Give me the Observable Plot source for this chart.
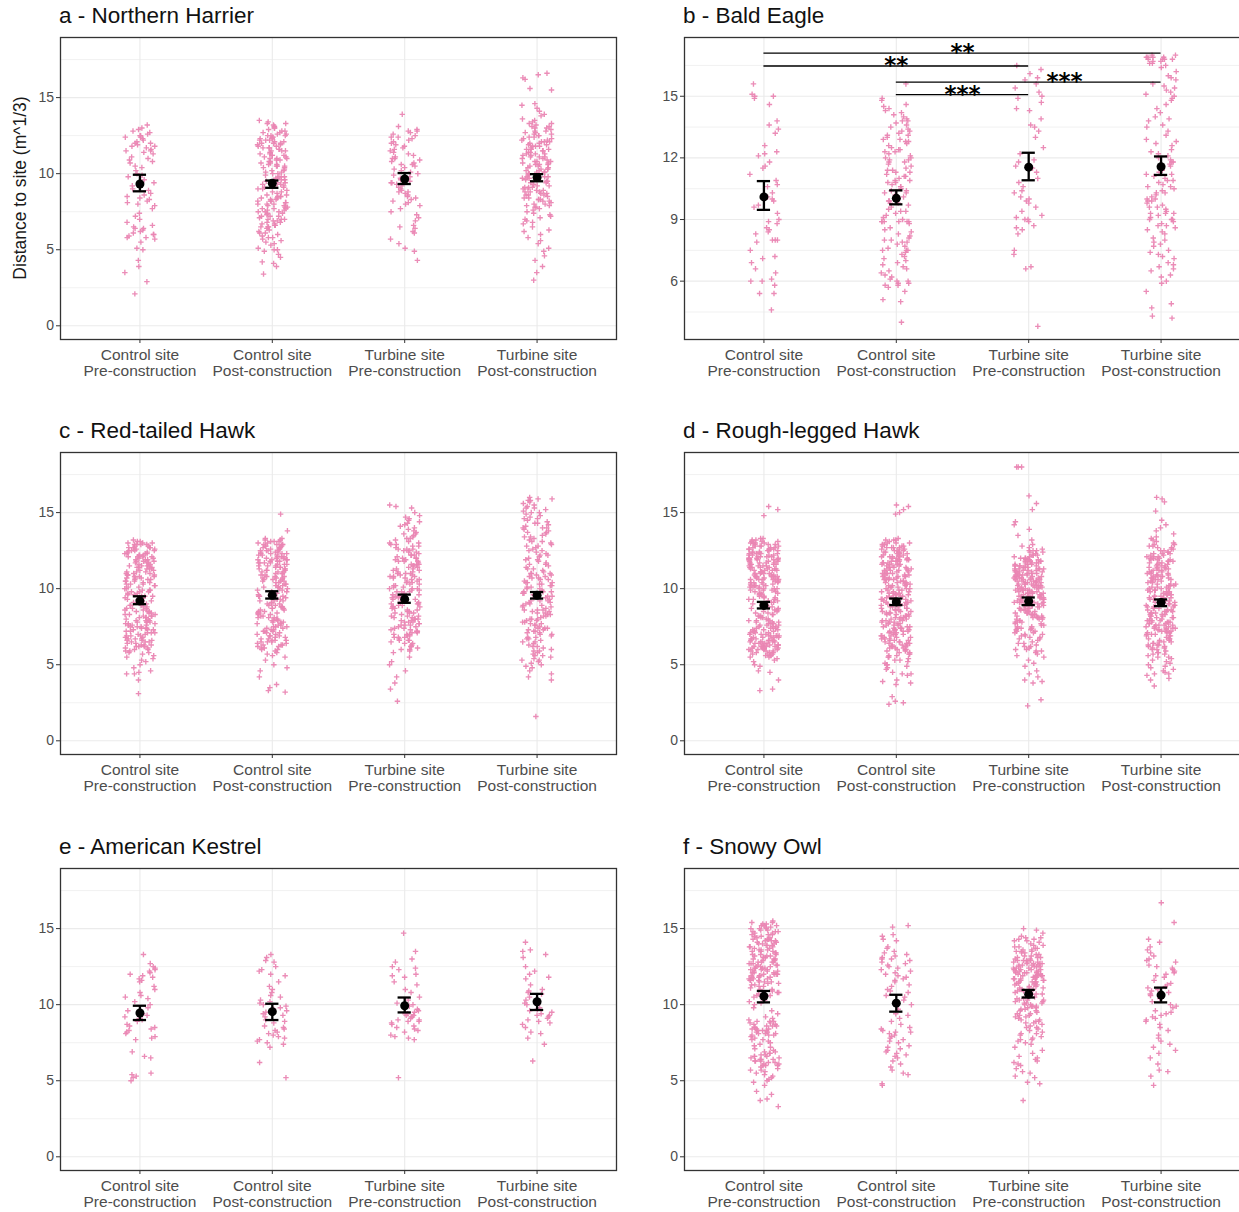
<!DOCTYPE html>
<html><head><meta charset="utf-8">
<script src="https://cdn.jsdelivr.net/npm/d3@7"></script>
<script src="https://cdn.jsdelivr.net/npm/@observablehq/plot@0.6"></script>
<style>
html,body{margin:0;padding:0;background:#fff;overflow:hidden;}
#root{position:relative;width:1239px;height:1212px;overflow:hidden;font-family:"Liberation Sans",Arial,sans-serif;background:#fff;}
.panel{position:absolute;width:620px;height:357px;}
.panel svg{max-width:none !important;}
.title{position:absolute;font-size:22.5px;color:#111;white-space:nowrap;line-height:24px;}
.ylab{position:absolute;width:300px;text-align:center;font-size:17.5px;color:#1a1a1a;transform:rotate(-90deg);white-space:nowrap;line-height:20px;}
</style></head>
<body><div id="root"></div>
<script>
// ---------- categories & labels ----------
const categories = ["Control site\nPre-construction","Control site\nPost-construction","Turbine site\nPre-construction","Turbine site\nPost-construction"];
const titles = ["a - Northern Harrier","b - Bald Eagle","c - Red-tailed Hawk","d - Rough-legged Hawk","e - American Kestrel","f - Snowy Owl"];
const yLabel = "Distance to site (m^1/3)";
const ticksMain = [0,5,10,15], ticksMainMinor = [2.5,7.5,12.5,17.5];
const ticksB = [6,9,12,15], ticksBMinor = [4.5,7.5,10.5,13.5,16.5];
const domainMain = [-0.9,18.95], domainB = [3.16,17.86];

// ---------- a - Northern Harrier ----------
const a_cpre = [13.2,13.0,12.9,12.8,12.7,12.6,12.5,12.5,12.4,12.4,12.3,12.2,12.1,12.0,12.0,11.9,11.8,11.8,11.7,11.6,11.5,11.5,11.4,11.3,11.1,11.0,10.9,10.8,10.7,10.5,10.4,10.2,10.0,9.9,9.8,9.6,9.4,9.2,9.0,8.9,8.7,8.6,8.5,8.4,8.3,8.2,8.1,8.0,7.9,7.7,7.4,7.2,7.0,6.8,6.6,6.5,6.4,6.4,6.3,6.2,6.1,6.0,6.0,5.9,5.8,5.8,5.7,5.5,5.1,5.0,4.3,3.9,3.5,2.9,2.1];
const a_cpost = [13.5,13.4,13.3,13.3,13.2,13.1,13.1,13.0,13.0,12.9,12.8,12.8,12.7,12.7,12.6,12.6,12.5,12.5,12.4,12.4,12.3,12.3,12.2,12.2,12.1,12.1,12.0,12.0,11.9,11.9,11.8,11.8,11.7,11.7,11.6,11.6,11.5,11.5,11.4,11.4,11.3,11.3,11.2,11.2,11.1,11.1,11.0,11.0,10.9,10.9,10.8,10.8,10.7,10.6,10.6,10.5,10.5,10.4,10.4,10.3,10.2,10.2,10.1,10.1,10.0,10.0,9.9,9.8,9.8,9.7,9.7,9.6,9.6,9.5,9.4,9.4,9.3,9.2,9.2,9.1,9.1,9.0,9.0,8.9,8.8,8.8,8.7,8.6,8.6,8.5,8.5,8.4,8.4,8.3,8.3,8.2,8.2,8.1,8.1,8.0,8.0,7.9,7.9,7.8,7.8,7.7,7.7,7.6,7.6,7.5,7.5,7.4,7.4,7.3,7.2,7.2,7.1,7.0,7.0,6.9,6.9,6.8,6.8,6.7,6.6,6.6,6.5,6.5,6.4,6.3,6.2,6.1,6.1,6.0,5.9,5.8,5.8,5.7,5.6,5.5,5.4,5.3,5.1,5.0,5.0,4.9,4.7,4.5,4.2,4.1,3.9,3.4,
  12.5,12.0,11.5,11.0,10.5,8.5,8.0,7.5,7.0,6.5,12.2,11.7,11.2,10.7,8.2,7.7,7.2,6.7,9.8,9.3];
const a_tpre = [13.9,13.1,12.9,12.8,12.8,12.7,12.6,12.5,12.4,12.4,12.3,12.2,12.1,12.0,11.9,11.8,11.7,11.6,11.5,11.4,11.3,11.2,11.1,11.0,11.0,10.9,10.8,10.7,10.6,10.6,10.5,10.4,10.3,10.2,10.1,10.0,9.9,9.8,9.7,9.6,9.5,9.4,9.4,9.3,9.2,9.1,9.0,8.9,8.8,8.8,8.7,8.6,8.5,8.4,8.3,8.2,8.1,8.0,7.9,7.7,7.5,7.3,7.1,6.9,6.6,6.5,6.4,6.2,6.1,5.7,5.4,5.1,4.9,4.3];
const a_tpost = [16.6,16.5,16.3,16.2,15.6,15.5,14.6,14.5,14.3,14.1,13.9,13.8,13.6,13.5,13.4,13.3,13.2,13.1,13.1,13.0,13.0,12.9,12.8,12.8,12.7,12.6,12.6,12.5,12.5,12.4,12.4,12.3,12.2,12.2,12.1,12.1,12.0,12.0,11.9,11.9,11.8,11.8,11.7,11.6,11.6,11.5,11.5,11.4,11.4,11.3,11.3,11.2,11.2,11.1,11.1,11.0,11.0,10.9,10.8,10.8,10.7,10.7,10.6,10.6,10.5,10.5,10.4,10.4,10.3,10.3,10.2,10.2,10.1,10.1,10.0,10.0,9.9,9.9,9.8,9.8,9.7,9.7,9.6,9.6,9.5,9.5,9.4,9.4,9.3,9.2,9.2,9.1,9.1,9.0,9.0,8.9,8.9,8.8,8.8,8.7,8.7,8.6,8.6,8.5,8.4,8.4,8.3,8.3,8.2,8.2,8.1,8.0,8.0,7.9,7.9,7.8,7.7,7.6,7.5,7.4,7.3,7.2,7.1,7.0,6.9,6.8,6.7,6.5,6.3,6.2,6.0,5.8,5.6,5.4,5.1,4.9,4.6,4.3,3.9,3.5,3.0,
  12.3,11.8,11.3,10.8,10.3,9.8,9.3,8.8,8.3,12.1,11.6,11.1,10.6,10.1,9.6,9.1,8.6,7.8,13.3,12.7];
const a_mean = [9.32,9.37,9.65,9.75], a_lo = [8.84,9.07,9.32,9.50], a_hi = [9.93,9.55,10.04,9.97];

// ---------- b - Bald Eagle ----------
const b_cpre = [15.6,15.1,15.0,15.0,14.9,14.6,13.8,13.6,13.4,13.2,12.6,12.3,12.2,12.1,11.8,11.6,11.5,11.2,10.9,10.7,10.6,10.3,10.1,10.0,9.9,9.7,9.6,9.3,9.0,8.9,8.8,8.6,8.5,8.4,8.3,8.0,8.0,8.0,7.9,7.5,7.2,7.1,6.9,6.6,6.4,6.1,6.0,6.0,5.8,5.4,5.4,4.6];
const b_cpost = [15.6,14.9,14.8,14.6,14.5,14.4,14.3,14.2,14.1,14.0,13.9,13.8,13.8,13.7,13.6,13.5,13.4,13.3,13.3,13.2,13.1,13.1,13.0,12.9,12.9,12.8,12.8,12.7,12.6,12.5,12.4,12.4,12.3,12.3,12.2,12.1,12.0,12.0,11.9,11.9,11.8,11.8,11.7,11.6,11.5,11.4,11.4,11.3,11.3,11.2,11.1,11.1,11.0,10.9,10.9,10.8,10.8,10.7,10.6,10.6,10.5,10.4,10.4,10.3,10.3,10.2,10.1,10.0,9.9,9.9,9.8,9.8,9.7,9.6,9.5,9.4,9.4,9.3,9.2,9.1,9.0,8.9,8.9,8.9,8.9,8.9,8.9,8.8,8.6,8.5,8.4,8.3,8.2,8.1,8.0,8.0,7.9,7.9,7.8,7.7,7.6,7.5,7.5,7.5,7.4,7.3,7.2,7.1,7.0,6.9,6.8,6.7,6.6,6.5,6.4,6.3,6.2,6.1,6.0,6.0,5.9,5.9,5.8,5.8,5.7,5.5,5.1,5.0,4.0];
const b_tpre = [16.5,16.3,16.1,15.9,15.8,15.6,15.4,15.2,15.0,14.9,14.7,14.4,14.3,13.9,13.6,13.5,13.3,13.0,12.5,12.2,11.9,11.8,11.6,11.5,11.3,11.0,10.8,10.6,10.4,10.3,10.1,10.0,9.9,9.8,9.6,9.4,9.2,9.1,9.0,9.0,8.9,8.7,8.6,8.5,8.3,7.5,7.3,6.7,6.6,3.8];
const b_tpost = [17.0,17.0,16.9,16.9,16.9,16.9,16.8,16.8,16.8,16.8,16.7,16.7,16.6,16.6,16.5,16.4,16.2,16.0,15.9,15.8,15.6,15.5,15.4,15.3,15.2,15.1,15.0,14.9,14.8,14.6,14.4,14.2,14.0,13.9,13.8,13.6,13.5,13.3,13.1,12.9,12.8,12.7,12.6,12.4,12.3,12.2,12.1,12.0,11.9,11.8,11.8,11.7,11.6,11.5,11.5,11.4,11.3,11.2,11.2,11.1,11.0,10.9,10.9,10.8,10.7,10.6,10.6,10.5,10.4,10.3,10.3,10.2,10.1,10.0,10.0,9.9,9.9,9.8,9.7,9.6,9.6,9.5,9.4,9.3,9.3,9.3,9.2,9.1,9.0,9.0,9.0,8.9,8.8,8.7,8.7,8.6,8.5,8.4,8.3,8.1,8.0,7.9,7.8,7.7,7.5,7.4,7.3,7.2,7.1,6.9,6.8,6.7,6.6,6.5,6.3,6.2,6.0,5.9,5.5,4.9,4.7,4.3,4.2];
const b_mean = [10.10,10.03,11.55,11.57], b_lo = [9.47,9.74,10.91,11.17], b_hi = [10.87,10.42,12.25,12.07];
// significance brackets (group index from, to, y position, label, label x)
const sigFrom = [1,1,2,2], sigTo = [4,3,4,3], sigY = [17.10,16.47,15.69,15.08], sigLabel = ["**","**","***","***"], sigLabelX = [2.5,2.0,3.27,2.5];

// ---------- c - Red-tailed Hawk ----------
const c_cpre = [13.2,13.1,13.1,13.0,13.0,12.9,12.9,12.9,12.8,12.8,12.7,12.7,12.7,12.6,12.6,12.5,12.5,12.5,12.4,12.4,12.3,12.3,12.3,12.2,12.2,12.1,12.1,12.1,12.0,12.0,11.9,11.9,11.8,11.8,11.8,11.7,11.7,11.6,11.6,11.5,11.5,11.5,11.4,11.4,11.3,11.3,11.2,11.2,11.1,11.1,11.0,11.0,10.9,10.9,10.8,10.8,10.8,10.7,10.7,10.6,10.6,10.5,10.5,10.4,10.4,10.3,10.3,10.2,10.2,10.1,10.0,10.0,9.9,9.9,9.8,9.8,9.7,9.6,9.6,9.5,9.5,9.4,9.3,9.3,9.2,9.2,9.1,9.0,9.0,8.9,8.9,8.8,8.8,8.7,8.7,8.6,8.6,8.5,8.5,8.4,8.4,8.3,8.3,8.2,8.2,8.1,8.1,8.0,8.0,7.9,7.9,7.8,7.8,7.8,7.7,7.7,7.6,7.6,7.6,7.5,7.5,7.4,7.4,7.3,7.3,7.2,7.2,7.1,7.1,7.0,7.0,6.9,6.9,6.8,6.8,6.7,6.7,6.6,6.6,6.5,6.5,6.4,6.4,6.3,6.3,6.2,6.2,6.1,6.0,6.0,5.9,5.8,5.7,5.6,5.5,5.3,5.2,5.0,4.8,4.6,4.5,4.4,4.4,4.0,3.1,
  12.9,12.5,12.1,11.7,11.3,10.9,10.5,10.1,9.7,9.3,8.9,8.5,8.1,7.7,7.3,6.9,6.5,6.1,12.7,12.3,11.9,11.5,11.1,10.7,10.3,9.9,9.5,9.1,8.7,8.3,7.9,7.5,7.1,6.7,6.3,5.9,13.0,12.2,11.4,10.6,9.8,9.0,8.2,7.4,6.6,5.8,12.6,11.0,9.4,7.8,6.2,5.4];
const c_cpost = [14.9,13.8,13.3,13.3,13.2,13.2,13.1,13.1,13.0,13.0,12.9,12.9,12.9,12.8,12.8,12.7,12.7,12.7,12.6,12.6,12.5,12.5,12.5,12.4,12.4,12.3,12.3,12.3,12.2,12.2,12.1,12.1,12.1,12.0,12.0,11.9,11.9,11.9,11.8,11.8,11.7,11.7,11.7,11.6,11.6,11.5,11.5,11.5,11.4,11.4,11.3,11.3,11.2,11.2,11.1,11.1,11.0,11.0,10.9,10.9,10.8,10.8,10.7,10.7,10.6,10.6,10.5,10.5,10.4,10.3,10.3,10.2,10.1,10.1,10.0,10.0,9.9,9.8,9.7,9.7,9.6,9.5,9.5,9.4,9.3,9.2,9.2,9.1,9.0,9.0,8.9,8.8,8.8,8.7,8.7,8.6,8.5,8.5,8.4,8.4,8.3,8.2,8.2,8.1,8.1,8.0,7.9,7.9,7.8,7.8,7.7,7.6,7.6,7.5,7.5,7.4,7.3,7.3,7.2,7.2,7.1,7.0,7.0,6.9,6.9,6.8,6.7,6.7,6.6,6.6,6.5,6.5,6.4,6.3,6.3,6.2,6.1,6.1,6.0,5.9,5.8,5.7,5.5,5.3,5.0,4.8,4.6,4.2,3.7,3.5,3.3,3.2,
  13.1,12.8,12.5,12.2,11.9,11.6,11.3,11.0,10.7,10.4,10.1,9.8,9.5,9.2,8.9,8.6,8.3,8.0,7.7,7.4,7.1,6.8,6.5,6.2,12.9,12.6,12.3,12.0,11.7,11.4,11.1,10.8,10.5,10.2,9.9,9.6,9.3,9.0,8.7,8.4,8.1,7.8,7.5,7.2,6.9,6.6,6.3,6.0,12.4,11.8,11.2,10.6,8.8,7.9,6.4,5.6];
const c_tpre = [15.5,15.4,15.3,15.0,14.8,14.7,14.6,14.4,14.3,14.2,14.1,14.0,13.9,13.8,13.7,13.6,13.5,13.4,13.3,13.2,13.1,13.0,12.9,12.9,12.8,12.7,12.6,12.6,12.5,12.5,12.4,12.3,12.2,12.2,12.1,12.0,12.0,11.9,11.8,11.8,11.7,11.6,11.6,11.5,11.5,11.4,11.3,11.3,11.2,11.1,11.1,11.0,11.0,10.9,10.8,10.8,10.7,10.7,10.6,10.5,10.5,10.4,10.3,10.3,10.2,10.1,10.1,10.0,10.0,9.9,9.8,9.8,9.7,9.6,9.6,9.5,9.5,9.4,9.3,9.3,9.2,9.1,9.1,9.0,9.0,8.9,8.8,8.8,8.7,8.7,8.6,8.5,8.5,8.4,8.4,8.3,8.2,8.2,8.1,8.1,8.0,8.0,7.9,7.8,7.8,7.7,7.7,7.6,7.6,7.5,7.5,7.4,7.3,7.3,7.2,7.1,7.1,7.0,7.0,6.9,6.8,6.8,6.7,6.6,6.6,6.5,6.4,6.3,6.2,6.1,6.0,5.9,5.5,5.2,5.0,4.6,4.2,3.8,3.4,2.6,
  13.6,13.0,12.6,12.2,11.8,11.4,11.0,10.6,10.2,9.8,9.4,9.0,8.6,8.2,7.8,7.4,7.0,6.6,6.2,12.8,12.4,12.0,11.6,11.2,10.8,10.4,10.0,9.6,9.2,8.8,8.4,8.0,7.6,7.2,6.8,6.4,6.0,14.5,13.3,11.9,10.9,9.9,8.9,7.9,6.9,5.8];
const c_tpost = [16.0,15.9,15.9,15.8,15.8,15.7,15.6,15.5,15.4,15.3,15.2,15.1,15.0,14.9,14.8,14.7,14.6,14.5,14.4,14.3,14.2,14.1,14.0,14.0,13.9,13.8,13.7,13.6,13.5,13.4,13.3,13.2,13.1,13.0,12.9,12.8,12.7,12.6,12.5,12.4,12.3,12.2,12.1,12.0,11.9,11.8,11.7,11.6,11.5,11.4,11.3,11.2,11.1,11.0,11.0,10.9,10.8,10.8,10.7,10.6,10.6,10.5,10.4,10.4,10.3,10.2,10.2,10.1,10.0,10.0,9.9,9.8,9.8,9.7,9.6,9.6,9.5,9.4,9.4,9.3,9.2,9.2,9.1,9.0,9.0,8.9,8.8,8.8,8.7,8.6,8.6,8.5,8.4,8.4,8.3,8.2,8.2,8.1,8.0,8.0,7.9,7.8,7.8,7.7,7.6,7.6,7.5,7.4,7.4,7.3,7.2,7.2,7.1,7.0,7.0,6.9,6.8,6.7,6.6,6.5,6.4,6.3,6.2,6.1,6.0,5.9,5.8,5.7,5.6,5.5,5.4,5.3,5.2,5.1,5.0,4.9,4.8,4.6,4.4,4.2,4.0,1.6,
  15.3,14.6,14.0,13.4,12.8,12.2,11.6,11.0,10.4,9.8,9.2,8.6,8.0,7.4,6.8,6.2,5.6,15.0,14.3,13.7,13.1,12.5,11.9,11.3,10.7,10.1,9.5,8.9,8.3,7.7,7.1,6.5,5.9,5.3,10.9,10.3,9.7,9.1,8.5,7.9,7.3,6.7];
const c_mean = [9.20,9.57,9.31,9.57], c_lo = [8.98,9.35,9.07,9.35], c_hi = [9.50,9.83,9.61,9.78];

// ---------- d - Rough-legged Hawk ----------
const d_cpre = [15.4,15.2,14.8,13.3,13.3,13.2,13.2,13.1,13.1,13.0,13.0,13.0,12.9,12.9,12.8,12.8,12.8,12.7,12.7,12.6,12.6,12.6,12.5,12.5,12.4,12.4,12.4,12.3,12.3,12.2,12.2,12.2,12.1,12.1,12.0,12.0,12.0,11.9,11.9,11.9,11.8,11.8,11.7,11.7,11.7,11.6,11.6,11.5,11.5,11.5,11.4,11.4,11.3,11.3,11.3,11.2,11.2,11.1,11.1,11.1,11.0,11.0,11.0,10.9,10.9,10.8,10.8,10.8,10.7,10.7,10.6,10.6,10.6,10.5,10.5,10.4,10.4,10.4,10.3,10.3,10.2,10.2,10.2,10.1,10.1,10.0,10.0,10.0,9.9,9.9,9.8,9.7,9.7,9.6,9.5,9.5,9.4,9.3,9.3,9.2,9.1,9.1,9.0,9.0,8.9,8.8,8.8,8.7,8.6,8.6,8.5,8.4,8.4,8.3,8.2,8.2,8.1,8.0,8.0,7.9,7.9,7.8,7.8,7.7,7.7,7.6,7.6,7.5,7.5,7.4,7.4,7.3,7.3,7.2,7.2,7.1,7.1,7.0,7.0,6.9,6.9,6.9,6.8,6.8,6.8,6.7,6.7,6.7,6.6,6.6,6.6,6.5,6.5,6.5,6.4,6.4,6.4,6.3,6.3,6.3,6.2,6.2,6.2,6.1,6.1,6.1,6.0,6.0,6.0,5.9,5.9,5.8,5.8,5.7,5.7,5.6,5.6,5.5,5.5,5.4,5.3,5.2,5.0,4.9,4.6,4.5,4.0,3.4,3.3,
  12.9,12.6,12.3,12.1,11.9,11.6,11.4,11.2,11.0,10.8,10.6,10.4,10.2,10.0,12.7,12.4,12.0,11.7,11.3,10.9,10.5,10.1,9.8,9.4,9.0,8.7,8.3,7.9,7.6,7.3,7.0,6.8,6.5,6.3,6.1,5.9,6.9,6.6,6.4,6.2,6.0,7.2,7.5,7.8,8.1,8.5,8.9,9.2,9.6,9.9,10.3,10.7,11.1,11.5,11.8,12.2,12.5,12.8,13.1,6.7,6.2,5.8,5.6,7.4,7.7,8.2,8.8,9.3,9.7,10.6,11.2,11.6,12.1,12.6,13.0,5.7,6.1,6.5,6.9,7.1,10.2,10.8,11.4,11.9,12.3];
const d_cpost = [15.5,15.4,15.2,15.0,14.9,13.3,13.2,13.2,13.1,13.0,13.0,12.9,12.9,12.8,12.8,12.7,12.7,12.7,12.6,12.6,12.5,12.5,12.4,12.4,12.4,12.3,12.3,12.2,12.2,12.1,12.1,12.1,12.0,12.0,11.9,11.9,11.8,11.8,11.8,11.7,11.7,11.6,11.6,11.6,11.5,11.5,11.4,11.4,11.4,11.3,11.3,11.2,11.2,11.2,11.1,11.1,11.0,11.0,11.0,10.9,10.9,10.8,10.8,10.8,10.7,10.7,10.6,10.6,10.6,10.5,10.5,10.4,10.4,10.3,10.3,10.2,10.2,10.1,10.1,10.0,10.0,9.9,9.9,9.8,9.8,9.7,9.7,9.6,9.6,9.5,9.5,9.4,9.4,9.3,9.3,9.2,9.2,9.1,9.1,9.0,9.0,8.9,8.9,8.8,8.8,8.7,8.7,8.6,8.6,8.5,8.5,8.4,8.4,8.3,8.3,8.2,8.2,8.1,8.1,8.0,8.0,7.9,7.9,7.8,7.8,7.7,7.7,7.6,7.6,7.5,7.5,7.4,7.4,7.3,7.3,7.2,7.2,7.1,7.1,7.0,7.0,6.9,6.9,6.8,6.8,6.7,6.7,6.6,6.6,6.5,6.5,6.4,6.4,6.3,6.3,6.2,6.2,6.1,6.1,6.0,6.0,5.9,5.8,5.7,5.6,5.5,5.4,5.3,5.2,5.1,5.0,4.9,4.7,4.5,4.4,4.4,4.3,4.0,3.9,3.8,3.7,2.9,2.6,2.5,2.4,
  13.2,12.9,12.6,12.3,12.0,11.7,11.4,11.1,10.8,10.5,10.2,9.9,9.6,9.3,9.0,8.7,8.4,8.1,7.8,7.5,7.2,6.9,6.6,6.3,6.0,5.7,12.8,12.5,12.2,11.9,11.6,11.3,11.0,10.7,10.4,10.1,9.8,9.5,9.2,8.9,8.6,8.3,8.0,7.7,7.4,7.1,6.8,6.5,6.2,5.9,5.6,13.0,12.4,11.8,11.2,10.6,10.0,9.4,8.8,8.2,7.6,7.0,6.4,5.8,12.7,12.1,11.5,10.9,10.3,9.7,9.1,8.5,7.9,7.3,6.7,6.1,5.5,5.3,5.0,4.8];
const d_tpre = [18.0,18.0,18.0,16.1,15.6,15.2,14.4,14.2,13.9,13.5,13.2,12.9,12.8,12.7,12.6,12.5,12.5,12.4,12.3,12.2,12.2,12.1,12.0,12.0,11.9,11.9,11.8,11.8,11.8,11.7,11.7,11.7,11.6,11.6,11.6,11.5,11.5,11.5,11.4,11.4,11.4,11.3,11.3,11.3,11.2,11.2,11.2,11.1,11.1,11.1,11.0,11.0,11.0,10.9,10.9,10.9,10.8,10.8,10.8,10.7,10.7,10.7,10.6,10.6,10.6,10.5,10.5,10.5,10.4,10.4,10.4,10.3,10.3,10.3,10.2,10.2,10.2,10.1,10.1,10.1,10.0,10.0,10.0,9.9,9.9,9.9,9.8,9.8,9.7,9.7,9.7,9.6,9.6,9.5,9.5,9.5,9.4,9.4,9.3,9.3,9.3,9.2,9.2,9.1,9.1,9.1,9.0,9.0,8.9,8.9,8.8,8.8,8.7,8.7,8.6,8.6,8.5,8.5,8.4,8.4,8.3,8.3,8.2,8.2,8.1,8.1,8.0,8.0,7.9,7.8,7.8,7.7,7.6,7.6,7.5,7.4,7.4,7.3,7.2,7.2,7.1,7.0,7.0,6.9,6.8,6.7,6.6,6.5,6.4,6.3,6.2,6.1,6.0,5.9,5.8,5.6,5.5,5.3,5.1,4.9,4.6,4.4,4.2,4.0,3.9,3.8,2.7,2.3,
  12.4,12.1,11.9,11.7,11.5,11.3,11.1,10.9,10.7,10.5,10.3,10.1,9.9,9.7,9.5,9.3,9.1,8.9,8.7,8.5,8.3,8.1,7.9,7.7,12.2,12.0,11.8,11.6,11.4,11.2,11.0,10.8,10.6,10.4,10.2,10.0,9.8,9.6,9.4,9.2,9.0,8.8,8.6,8.4,8.2,8.0,7.8,7.5,7.3,7.1,6.9,6.7,6.4,6.2,5.9,5.7,11.9,11.5,11.1,10.7,10.3,9.9,9.5,9.1,8.7,8.3,12.5,11.3,10.5,9.7,8.9,8.1,7.4,6.8,6.0];
const d_tpost = [16.0,15.9,15.7,15.1,14.5,14.2,14.0,13.8,13.6,13.4,13.2,13.1,13.0,12.9,12.8,12.8,12.7,12.6,12.5,12.5,12.4,12.3,12.3,12.2,12.1,12.1,12.0,12.0,11.9,11.9,11.8,11.8,11.7,11.7,11.6,11.6,11.5,11.5,11.4,11.4,11.3,11.3,11.2,11.2,11.1,11.1,11.0,11.0,10.9,10.9,10.8,10.8,10.7,10.7,10.6,10.6,10.5,10.5,10.4,10.4,10.3,10.3,10.2,10.2,10.1,10.1,10.0,10.0,9.9,9.9,9.8,9.8,9.7,9.7,9.6,9.6,9.5,9.5,9.4,9.4,9.3,9.3,9.2,9.2,9.1,9.1,9.0,9.0,8.9,8.9,8.8,8.8,8.7,8.7,8.6,8.6,8.5,8.5,8.4,8.4,8.3,8.3,8.2,8.2,8.1,8.1,8.0,8.0,7.9,7.9,7.9,7.8,7.8,7.8,7.7,7.7,7.6,7.6,7.6,7.5,7.5,7.4,7.4,7.4,7.3,7.3,7.2,7.2,7.1,7.1,7.0,7.0,6.9,6.9,6.8,6.7,6.7,6.6,6.5,6.5,6.4,6.3,6.3,6.2,6.1,6.0,5.9,5.8,5.7,5.6,5.5,5.4,5.2,5.0,4.9,4.8,4.6,4.5,4.4,4.4,4.3,4.1,4.0,3.6,
  12.9,12.6,12.3,12.0,11.7,11.4,11.1,10.8,10.5,10.2,9.9,9.6,9.3,9.0,8.7,8.4,8.1,7.8,7.5,7.2,6.9,6.6,6.3,6.0,5.7,12.7,12.4,12.1,11.8,11.5,11.2,10.9,10.6,10.3,10.0,9.7,9.4,9.1,8.8,8.5,8.2,7.9,7.6,7.3,7.0,6.7,6.4,6.1,5.8,5.5,11.9,11.3,10.7,10.1,9.5,8.9,8.3,7.7,7.1,6.5,13.3,12.2,11.0,9.8,8.6,7.4,6.2,5.3,5.1,4.7];
const d_mean = [8.90,9.13,9.18,9.09], d_lo = [8.70,8.92,8.92,8.85], d_hi = [9.13,9.35,9.42,9.29];

// ---------- e - American Kestrel ----------
const e_cpre = [13.3,12.7,12.5,12.4,12.3,12.2,12.1,12.0,11.9,11.8,11.7,11.6,11.5,11.2,11.0,10.8,10.6,10.5,10.4,10.2,10.0,9.8,9.6,9.4,9.3,9.2,9.1,9.0,8.9,8.7,8.6,8.5,8.4,8.3,8.2,8.1,7.9,7.8,7.7,6.9,6.6,6.5,5.5,5.4,5.3,5.2,5.0];
const e_cpost = [13.3,13.1,12.9,12.8,12.5,12.3,12.2,12.0,11.9,11.5,11.2,11.0,10.8,10.6,10.5,10.3,10.2,10.1,10.0,9.9,9.8,9.7,9.6,9.5,9.4,9.3,9.2,9.0,8.9,8.8,8.6,8.5,8.4,8.3,8.2,8.1,8.0,7.9,7.8,7.7,7.6,7.5,7.4,7.2,6.2,5.2];
const e_tpre = [14.7,13.5,13.0,12.8,12.5,12.4,12.3,12.0,11.9,11.8,11.5,11.3,11.0,10.8,10.5,10.3,10.1,10.0,9.9,9.8,9.7,9.6,9.5,9.4,9.4,9.3,9.3,9.2,9.2,9.1,9.0,9.0,8.9,8.9,8.8,8.7,8.6,8.5,8.4,8.3,8.2,8.0,7.9,7.8,7.7,5.2];
const e_tpost = [14.1,13.6,13.5,13.3,13.1,12.5,12.2,12.0,11.8,11.7,11.3,11.0,10.9,10.8,10.7,10.5,10.3,10.1,10.0,9.8,9.7,9.6,9.5,9.4,9.3,9.3,9.2,9.1,9.0,8.9,8.8,8.7,8.5,8.2,8.1,7.8,7.4,6.3];
const e_mean = [9.45,9.54,9.93,10.19], e_lo = [8.99,8.99,9.49,9.65], e_hi = [9.93,10.06,10.47,10.71];

// ---------- f - Snowy Owl ----------
const f_cpre = [15.5,15.4,15.4,15.3,15.3,15.2,15.2,15.1,15.1,15.0,15.0,15.0,14.9,14.9,14.8,14.8,14.7,14.7,14.6,14.6,14.5,14.5,14.4,14.4,14.3,14.3,14.2,14.2,14.1,14.1,14.0,14.0,13.9,13.9,13.8,13.8,13.7,13.7,13.6,13.6,13.5,13.5,13.4,13.4,13.3,13.3,13.2,13.2,13.1,13.1,13.0,13.0,13.0,12.9,12.9,12.8,12.8,12.8,12.7,12.7,12.6,12.6,12.6,12.5,12.5,12.4,12.4,12.4,12.3,12.3,12.2,12.2,12.2,12.1,12.1,12.0,12.0,12.0,11.9,11.9,11.8,11.8,11.8,11.7,11.7,11.6,11.6,11.5,11.5,11.4,11.4,11.3,11.3,11.2,11.2,11.1,11.0,11.0,10.9,10.8,10.8,10.7,10.6,10.6,10.5,10.4,10.3,10.2,10.1,10.0,9.8,9.6,9.4,9.2,9.1,9.0,8.9,8.9,8.8,8.8,8.7,8.7,8.6,8.6,8.5,8.5,8.4,8.4,8.3,8.3,8.2,8.2,8.1,8.1,8.0,8.0,7.9,7.8,7.7,7.6,7.5,7.4,7.3,7.2,7.1,7.0,6.9,6.9,6.8,6.8,6.7,6.7,6.6,6.6,6.5,6.5,6.4,6.4,6.3,6.3,6.2,6.2,6.1,6.1,6.0,6.0,5.9,5.8,5.7,5.6,5.5,5.4,5.3,5.2,5.1,5.0,4.9,4.7,4.3,4.1,3.8,3.7,3.3,
  14.8,14.3,13.9,13.5,13.1,12.7,12.3,11.9,11.5,15.2,14.6,14.0,13.6,13.2,12.8,12.4,12.0,11.6,8.9,8.6,8.3,8.0,7.7,6.6,6.3,6.0,5.7,12.5,12.1,11.7,13.3,13.8,14.2,8.4,8.1,6.4];
const f_cpost = [15.2,15.1,14.6,14.5,14.3,14.2,13.8,13.7,13.5,13.4,13.3,13.2,13.1,13.0,13.0,12.9,12.8,12.7,12.6,12.5,12.4,12.3,12.2,12.1,12.0,11.9,11.8,11.7,11.6,11.5,11.3,11.2,11.0,10.9,10.8,10.6,10.5,10.3,10.0,9.7,9.4,9.3,9.1,8.9,8.7,8.5,8.4,8.3,8.2,8.2,8.1,8.0,7.9,7.8,7.7,7.6,7.5,7.3,7.2,7.1,7.0,6.9,6.8,6.7,6.6,6.5,6.3,6.1,5.9,5.7,5.5,5.4,4.8,4.7];
const f_tpre = [15.0,14.9,14.7,14.5,14.4,14.4,14.3,14.3,14.2,14.2,14.1,14.0,13.9,13.9,13.8,13.8,13.7,13.7,13.6,13.6,13.5,13.5,13.4,13.4,13.3,13.3,13.2,13.2,13.1,13.1,13.0,13.0,12.9,12.9,12.9,12.8,12.8,12.8,12.7,12.7,12.7,12.6,12.6,12.6,12.5,12.5,12.5,12.4,12.4,12.4,12.3,12.3,12.3,12.2,12.2,12.2,12.1,12.1,12.1,12.0,12.0,12.0,11.9,11.9,11.9,11.8,11.8,11.8,11.7,11.7,11.7,11.6,11.6,11.6,11.5,11.5,11.5,11.4,11.4,11.3,11.3,11.2,11.2,11.1,11.1,11.0,11.0,10.9,10.9,10.8,10.8,10.7,10.7,10.6,10.6,10.5,10.5,10.4,10.4,10.3,10.3,10.2,10.2,10.1,10.1,10.0,10.0,9.9,9.9,9.8,9.8,9.7,9.6,9.6,9.5,9.4,9.4,9.3,9.2,9.2,9.1,9.0,9.0,8.9,8.8,8.8,8.7,8.6,8.5,8.4,8.3,8.2,8.1,8.0,7.9,7.8,7.7,7.6,7.5,7.4,7.2,7.0,6.8,6.6,6.4,6.3,6.2,6.1,6.0,5.8,5.6,5.5,5.3,5.2,4.9,4.8,3.7,
  13.5,13.1,12.7,12.3,11.9,11.5,11.1,10.7,10.3,9.9,12.9,12.5,12.1,11.7,11.3,10.9,10.5,10.1,9.7,9.3,12.6,12.2,11.8,11.4,11.0,8.9,8.5,8.1,7.7,6.5];
const f_tpost = [16.7,15.4,14.3,14.1,13.8,13.6,13.4,13.2,13.0,12.9,12.8,12.6,12.5,12.4,12.3,12.2,12.1,12.0,11.9,11.8,11.6,11.4,11.3,11.2,11.1,11.0,10.9,10.8,10.7,10.6,10.5,10.4,10.2,10.0,9.9,9.8,9.6,9.5,9.4,9.3,9.2,9.1,9.0,8.9,8.7,8.5,8.3,8.0,7.8,7.6,7.4,7.2,7.0,6.8,6.5,6.1,5.7,5.6,5.3,4.7];
const f_mean = [10.55,10.10,10.69,10.63], f_lo = [10.15,9.54,10.47,10.15], f_hi = [10.90,10.65,10.97,11.12];

// ---------- assemble ----------
const panels = [
  {title: titles[0], groups: [a_cpre,a_cpost,a_tpre,a_tpost], mean: a_mean, lo: a_lo, hi: a_hi, domain: domainMain, ticks: ticksMain, minor: ticksMainMinor},
  {title: titles[1], groups: [b_cpre,b_cpost,b_tpre,b_tpost], mean: b_mean, lo: b_lo, hi: b_hi, domain: domainB, ticks: ticksB, minor: ticksBMinor, sig: true},
  {title: titles[2], groups: [c_cpre,c_cpost,c_tpre,c_tpost], mean: c_mean, lo: c_lo, hi: c_hi, domain: domainMain, ticks: ticksMain, minor: ticksMainMinor},
  {title: titles[3], groups: [d_cpre,d_cpost,d_tpre,d_tpost], mean: d_mean, lo: d_lo, hi: d_hi, domain: domainMain, ticks: ticksMain, minor: ticksMainMinor},
  {title: titles[4], groups: [e_cpre,e_cpost,e_tpre,e_tpost], mean: e_mean, lo: e_lo, hi: e_hi, domain: domainMain, ticks: ticksMain, minor: ticksMainMinor},
  {title: titles[5], groups: [f_cpre,f_cpost,f_tpre,f_tpost], mean: f_mean, lo: f_lo, hi: f_hi, domain: domainMain, ticks: ticksMain, minor: ticksMainMinor}
];

// deterministic jitter (layout only)
function jitter(i, k) {
  const s = Math.sin((i + 1) * 12.9898 + k * 78.233) * 43758.5453;
  return (s - Math.floor(s) - 0.5) * 0.23;
}

const FONT = '"Liberation Sans", Arial, sans-serif';
const root = document.getElementById("root");
const colLeft = [0, 624], rowTop = [0, 415, 831];
const pink = "#ea86b3";
const grid = "#ebebeb";

panels.forEach((p, idx) => {
  const col = idx % 2, row = Math.floor(idx / 2);
  const left = colLeft[col], top = rowTop[row];

  const t = document.createElement("div");
  t.className = "title";
  t.textContent = p.title;
  t.style.left = (left + 59) + "px";
  t.style.top = (top + 4) + "px";
  root.appendChild(t);

  const pts = [];
  p.groups.forEach((arr, g) => arr.forEach((v, i) => pts.push({x: g + 1 + jitter(i, g + 1 + idx * 4), y: v})));
  const summary = p.mean.map((m, g) => ({x: g + 1, mean: m, lo: p.lo[g], hi: p.hi[g]}));

  const marks = [
    Plot.ruleY(p.minor, {stroke: grid, strokeWidth: 0.7}),
    Plot.ruleY(p.ticks, {stroke: grid, strokeWidth: 1.1}),
    Plot.ruleX([1,2,3,4], {stroke: grid, strokeWidth: 1.1}),
    Plot.dot(pts, {x: "x", y: "y", symbol: "plus", r: 1.9, stroke: pink, strokeWidth: 1.35, strokeOpacity: 0.95}),
    Plot.ruleX(summary, {x: "x", y1: "lo", y2: "hi", stroke: "black", strokeWidth: 2.3}),
    Plot.ruleY(summary, {y: "hi", x1: d => d.x - 0.05, x2: d => d.x + 0.05, stroke: "black", strokeWidth: 2.3}),
    Plot.ruleY(summary, {y: "lo", x1: d => d.x - 0.05, x2: d => d.x + 0.05, stroke: "black", strokeWidth: 2.3}),
    Plot.dot(summary, {x: "x", y: "mean", r: 4.5, fill: "black"}),
  ];
  if (p.sig) {
    const sig = sigFrom.map((f, i) => ({from: f, to: sigTo[i], y: sigY[i], label: sigLabel[i], lx: sigLabelX[i]}));
    marks.push(Plot.ruleY(sig, {y: "y", x1: "from", x2: "to", stroke: "black", strokeWidth: 1.4}));
    marks.push(Plot.text(sig, {x: "lx", y: "y", text: "label", fontSize: 23, fontWeight: "bold", fontFamily: "DejaVu Sans", fill: "black", lineAnchor: "bottom", dy: 7}));
  }
  marks.push(
    Plot.frame({stroke: "#333333", strokeWidth: 1.3}),
    Plot.axisY({ticks: p.ticks, tickSize: 4, tickPadding: 2.5, fontSize: 14, label: null, stroke: "#333", fill: "#4d4d4d"}),
    Plot.axisX({ticks: [1,2,3,4], tickFormat: d => categories[d - 1], tickSize: 4, tickPadding: 5, fontSize: 15.5, lineHeight: 1.03, label: null, stroke: "#333", fill: "#4d4d4d"})
  );

  const svg = Plot.plot({
    width: 620, height: 357,
    marginLeft: 60, marginRight: 4, marginTop: 7, marginBottom: 48,
    x: {type: "linear", domain: [0.4, 4.6]},
    y: {type: "linear", domain: p.domain},
    style: {fontFamily: FONT, background: "transparent", overflow: "visible", maxWidth: "none"},
    marks
  });
  const wrap = document.createElement("div");
  wrap.className = "panel";
  wrap.style.left = left + "px";
  wrap.style.top = (top + 30) + "px";
  wrap.appendChild(svg);
  root.appendChild(wrap);
});

const yl = document.createElement("div");
yl.className = "ylab";
yl.textContent = yLabel;
yl.style.left = (20 - 150) + "px";
yl.style.top = (188 - 10) + "px";
root.appendChild(yl);
</script>
</body></html>
